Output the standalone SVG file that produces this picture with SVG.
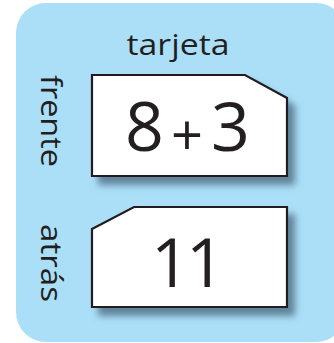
<svg xmlns="http://www.w3.org/2000/svg" width="334" height="343" viewBox="0 0 334 343">
<defs>
<filter id="sh" x="-20%" y="-20%" width="150%" height="160%">
<feDropShadow dx="7" dy="8" stdDeviation="3.5" flood-color="#4d6d82" flood-opacity="0.8"/>
</filter>
<style>
.card{fill:#ffffff;stroke:#231f20;stroke-width:2.2;stroke-linejoin:miter}
.lbl{font-family:"Open Sans","Noto Sans",sans-serif;font-size:30px;fill:#231f20}
.num{font-family:"Open Sans","Noto Sans",sans-serif;font-size:68px;fill:#231f20}
</style>
</defs>
<rect x="16" y="3" width="330" height="339" rx="30" fill="#abdff8"/>
<g id="title"><text class="lbl" x="178" y="55" text-anchor="middle" textLength="103" lengthAdjust="spacingAndGlyphs">tarjeta</text></g>
<g id="frente-label"><text class="lbl" transform="translate(41,121) rotate(90)" text-anchor="middle" textLength="92" lengthAdjust="spacingAndGlyphs">frente</text></g>
<g id="atras-label"><text class="lbl" transform="translate(41,263) rotate(90)" text-anchor="middle" textLength="78" lengthAdjust="spacingAndGlyphs">atrás</text></g>
<g id="front-card">
<path class="card" filter="url(#sh)" d="M92,75 H245 L287,98 V176 H92 Z"/>
<text class="num" x="125" y="151">8</text>
<text class="num" x="187" y="155" text-anchor="middle" style="font-size:56px">+</text>
<text class="num" x="211" y="151">3</text>
</g>
<g id="back-card">
<path class="card" filter="url(#sh)" d="M92,229 L134,207 H287 V307 H92 Z"/>
<text class="num" x="151" y="287" style="letter-spacing:-4px">11</text>
</g>
</svg>
